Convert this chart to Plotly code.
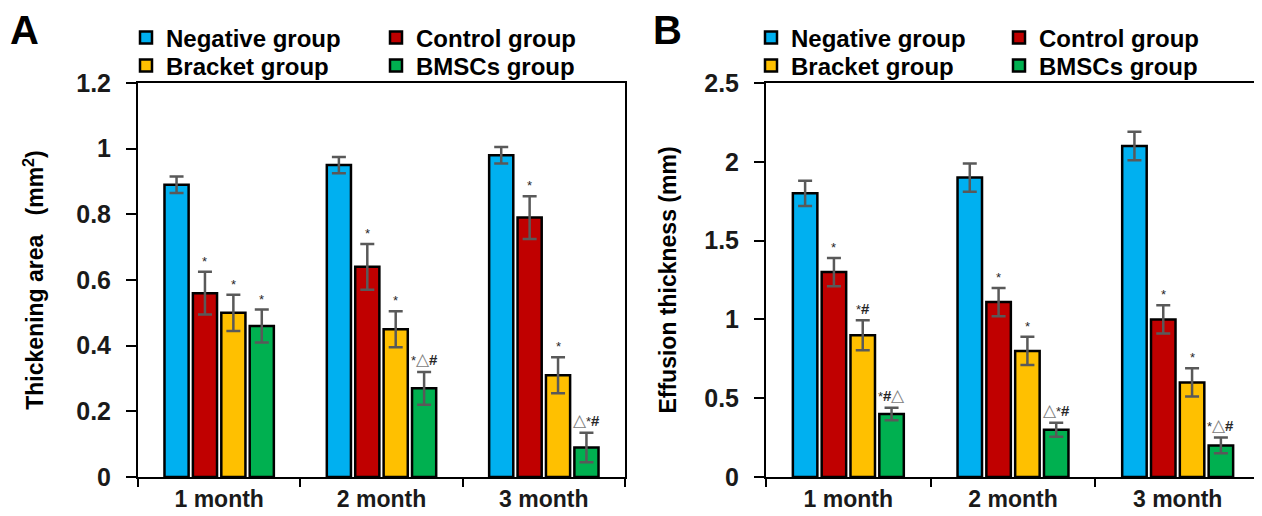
import plotly.graph_objects as go

months = ["1 month", "2 month", "3 month"]
groups = ["Negative group", "Control group", "Bracket group", "BMSCs group"]
colors = ["#00B0F0", "#C00000", "#FFC000", "#00B050"]

# Panel A: Thickening area (mm2)
a_negative = [0.89, 0.95, 0.98]
a_control = [0.56, 0.64, 0.79]
a_bracket = [0.50, 0.45, 0.31]
a_bmscs = [0.46, 0.27, 0.09]
a_negative_err = [0.025, 0.025, 0.025]
a_control_err = [0.065, 0.07, 0.065]
a_bracket_err = [0.055, 0.055, 0.055]
a_bmscs_err = [0.05, 0.05, 0.045]
a_marks_control = ["*", "*", "*"]
a_marks_bracket = ["*", "*", "*"]
a_marks_bmscs = ["*", "*△#", "△*#"]

# Panel B: Effusion thickness (mm)
b_negative = [1.80, 1.90, 2.10]
b_control = [1.30, 1.11, 1.00]
b_bracket = [0.90, 0.80, 0.60]
b_bmscs = [0.40, 0.30, 0.20]
b_negative_err = [0.08, 0.09, 0.09]
b_control_err = [0.09, 0.09, 0.09]
b_bracket_err = [0.095, 0.09, 0.09]
b_bmscs_err = [0.04, 0.045, 0.05]
b_marks_control = ["*", "*", "*"]
b_marks_bracket = ["*#", "*", "*"]
b_marks_bmscs = ["*#△", "△*#", "*△#"]

# page has an 8px body margin: figure occupies window pixels 8..1262 x 8..516
OFF = 8
W, H = 1262 - OFF, 516 - OFF
FONT = "Liberation Sans, Arial, sans-serif"
BARGAP = 0.30
BARGROUPGAP = 0.15


def fx(px):
    return (px - OFF) / W


def fy(py):
    return 1 - (py - OFF) / H


domA = [fx(138), fx(625)]
domB = [fx(766), fx(1260)]
ydom = [fy(477), fy(83)]

# legend entry placement (window pixels): columns per panel, two rows
leg_cols = {0: [126, 376], 1: [751, 999]}
leg_rows = [38, 66]

MARK_HTML = {
    "*": "<span style='font-size:13px'>*</span>",
    "△": "<span style='font-size:17px;color:gray'>△</span>",
    "#": "<b>#</b>",
}

fig = go.Figure()

panels = [
    ("x", "y", [a_negative, a_control, a_bracket, a_bmscs],
     [a_negative_err, a_control_err, a_bracket_err, a_bmscs_err],
     [None, a_marks_control, a_marks_bracket, a_marks_bmscs], domA),
    ("x2", "y2", [b_negative, b_control, b_bracket, b_bmscs],
     [b_negative_err, b_control_err, b_bracket_err, b_bmscs_err],
     [None, b_marks_control, b_marks_bracket, b_marks_bmscs], domB),
]

annotations = []
legends = {}
for p, (xr, yr, vals, errs, marks, dom) in enumerate(panels):
    for i, g in enumerate(groups):
        n = p * 4 + i + 1
        lid = "legend" if n == 1 else f"legend{n}"
        fig.add_trace(go.Bar(
            x=months, y=vals[i], name=g, xaxis=xr, yaxis=yr, legend=lid,
            marker=dict(color=colors[i], line=dict(color="black", width=2.5)),
            error_y=dict(type="data", array=errs[i], color="#595959",
                         thickness=2.5, width=7),
        ))
        legends[lid] = dict(
            x=fx(leg_cols[p][i % 2]), y=fy(leg_rows[i // 2]),
            xanchor="left", yanchor="middle", orientation="v",
            font=dict(family=FONT, size=24, color="black", weight="bold"),
            bgcolor="rgba(0,0,0,0)", borderwidth=0, itemclick=False,
            itemdoubleclick=False,
        )
    # significance marks above error bars
    width_px = (dom[1] - dom[0]) * W
    slot = width_px / 3 * (1 - BARGAP) / 4
    for i in range(1, 4):
        off = (i - 1.5) * slot
        for j, m in enumerate(months):
            html = "".join(MARK_HTML.get(c, c) for c in marks[i][j])
            annotations.append(dict(
                x=m, y=vals[i][j] + errs[i][j], xref=xr, yref=yr,
                xshift=off, yshift=1, yanchor="bottom", xanchor="center",
                text=html, showarrow=False,
                font=dict(family=FONT, size=15, color="#262626"),
            ))

annotations.append(dict(x=fx(8), y=fy(6), xref="paper", yref="paper",
                        xanchor="left", yanchor="top", text="<b>A</b>",
                        showarrow=False, font=dict(family=FONT, size=40, color="black")))
annotations.append(dict(x=fx(651), y=fy(6), xref="paper", yref="paper",
                        xanchor="left", yanchor="top", text="<b>B</b>",
                        showarrow=False, font=dict(family=FONT, size=40, color="black")))

tickfont = dict(family=FONT, size=25, color="#1a1a1a", weight="bold")
xfont = dict(family=FONT, size=23, color="#1a1a1a", weight="bold")
titlefont = dict(family=FONT, size=23, color="black", weight="bold")

xcommon = dict(showline=True, linecolor="black", linewidth=2, mirror=True,
               ticks="outside", tickson="boundaries", ticklen=8, tickwidth=2,
               tickcolor="black", tickfont=xfont, showgrid=False,
               range=[-0.5, 2.5], type="category")
ycommon = dict(showline=True, linecolor="black", linewidth=2, mirror=True,
               ticks="outside", ticklen=10, tickwidth=2, tickcolor="black",
               tickfont=tickfont, showgrid=False, zeroline=False,
               ticklabelstandoff=10, domain=ydom)

fig.update_layout(
    width=W, height=H,
    margin=dict(l=0, r=0, t=0, b=0, autoexpand=False),
    paper_bgcolor="white", plot_bgcolor="white",
    barmode="group", bargap=BARGAP, bargroupgap=BARGROUPGAP,
    xaxis=dict(xcommon, domain=domA, anchor="y"),
    xaxis2=dict(xcommon, domain=domB, anchor="y2"),
    yaxis=dict(ycommon, anchor="x", range=[0, 1.2], dtick=0.2,
               title=dict(text="Thickening area\u00a0\u00a0\u00a0(mm<sup>2</sup>)",
                          font=titlefont, standoff=26)),
    yaxis2=dict(ycommon, anchor="x2", range=[0, 2.5], dtick=0.5,
                title=dict(text="Effusion thickness (mm)",
                           font=titlefont, standoff=21)),
    annotations=annotations,
    showlegend=True,
    **legends,
)

fig.write_html("out.html")
